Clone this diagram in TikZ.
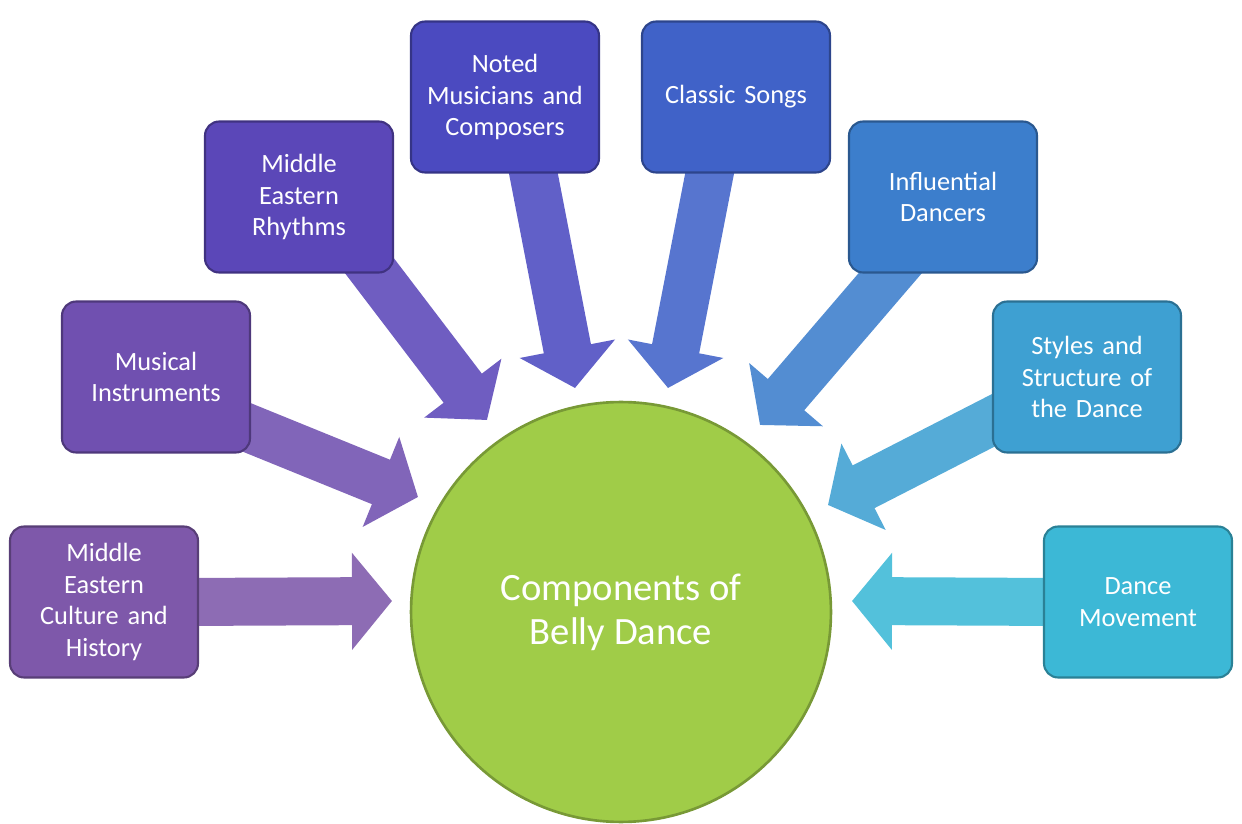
\documentclass[tikz,border=0pt]{standalone}
\usepackage{fontspec}
\setmainfont{Carlito}
\usetikzlibrary{arrows.meta}
\pgfdeclarelayer{bg}
\pgfsetlayers{bg,main}
\definecolor{c1}{HTML}{7E58AA}
\definecolor{c2}{HTML}{7050B0}
\definecolor{c3}{HTML}{5B47B8}
\definecolor{c4}{HTML}{4B4AC0}
\definecolor{c5}{HTML}{4062C8}
\definecolor{c6}{HTML}{3C7ECC}
\definecolor{c7}{HTML}{3EA0D2}
\definecolor{c8}{HTML}{3CB8D6}
\definecolor{cg}{HTML}{A0CC48}
\tikzset{
 x=0.02cm,y=-0.02cm,
 box/.style={draw=#1!70!black,line width=1.2pt,fill=#1,rounded corners=8pt,minimum width=3.76cm,minimum height=3.02cm,text width=3.6cm,align=center,text=white,font=\fontsize{15}{18}\selectfont,inner sep=0pt},
 blk/.style={line width=0.96cm,color=#1!88!white,-{Triangle[length=0.8cm,width=1.9cm]}},
}
\begin{document}
\begin{tikzpicture}
\useasboundingbox (0,0) rectangle (1242,824);
\node[box=c1] (b1) at (104,602) {Middle\\Eastern\\Culture and\\History};
\node[box=c2] (b2) at (156,377) {Musical\\Instruments};
\node[box=c3] (b3) at (299,197) {Middle\\Eastern\\Rhythms};
\node[box=c4] (b4) at (505,97) {Noted\\Musicians and\\Composers};
\node[box=c5] (b5) at (736,97) {Classic Songs};
\node[box=c6] (b6) at (943,197) {Influential\\Dancers};
\node[box=c7] (b7) at (1087,377) {Styles and\\Structure of\\the Dance};
\node[box=c8] (b8) at (1138,602) {Dance\\Movement};
\coordinate (t1) at (392,601);
\coordinate (t2) at (418,497);
\coordinate (t3) at (487,420);
\coordinate (t4) at (575,388);
\coordinate (t5) at (668,388);
\coordinate (t6) at (760,425);
\coordinate (t7) at (828,505);
\coordinate (t8) at (852,601);
\begin{pgfonlayer}{bg}
\draw[blk=c1] ([xshift=-10pt]b1.east) -- (t1);
\draw[blk=c2] ([xshift=-10pt]b2.east |- 0,422) -- (t2);
\draw[blk=c3] ([yshift=10pt]b3.south -| 362,0) -- (t3);
\draw[blk=c4] ([yshift=10pt]b4.south -| 530,0) -- (t4);
\draw[blk=c5] ([yshift=10pt]b5.south -| 713,0) -- (t5);
\draw[blk=c6] ([yshift=10pt]b6.south -| 905,0) -- (t6);
\draw[blk=c7] ([xshift=10pt]b7.west |- 0,412) -- (t7);
\draw[blk=c8] ([xshift=10pt]b8.west) -- (t8);
\end{pgfonlayer}
\node[circle,minimum size=8.4cm,fill=cg,draw=cg!75!black,line width=1.5pt,text=white,align=center,font=\fontsize{22}{25}\selectfont] (c) at (621,612) {Components of\\Belly Dance};
\end{tikzpicture}
\end{document}
